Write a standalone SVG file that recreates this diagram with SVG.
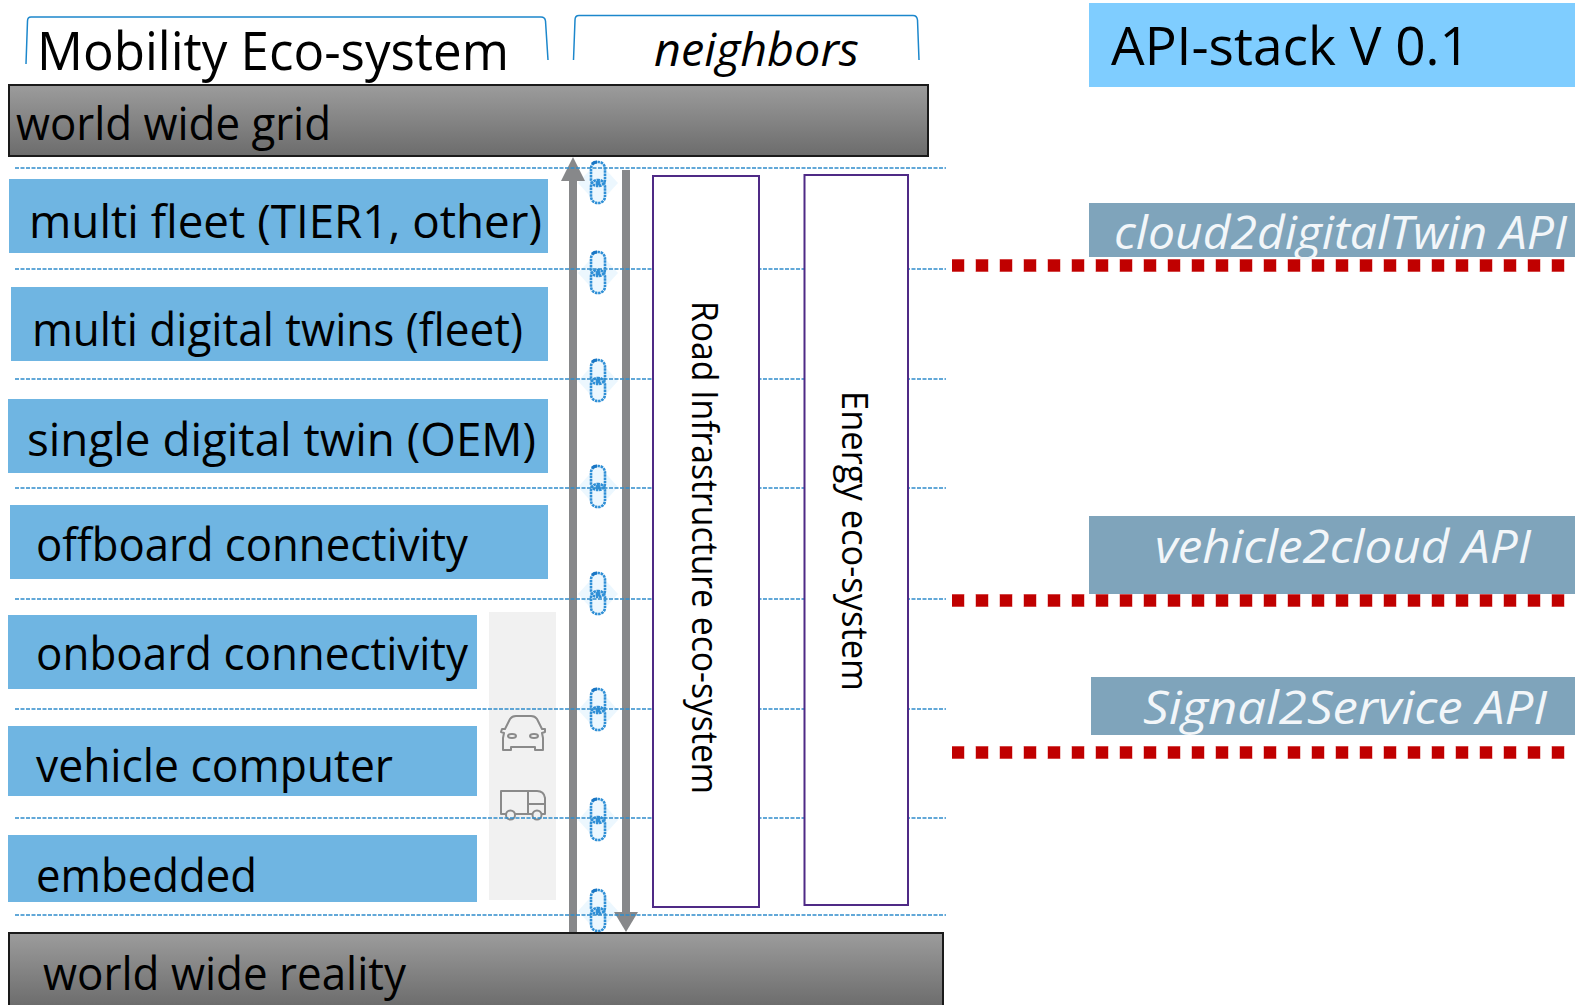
<svg xmlns="http://www.w3.org/2000/svg" width="1575" height="1005" viewBox="0 0 1575 1005">
<style>
text{font-family:"Open Sans","Noto Sans","Liberation Sans",sans-serif;fill:#000}
.t{font-size:45px}
.i{font-size:45px;font-style:italic;fill:#f2f6f9}
.layer{fill:#6fb5e2}
.api{fill:#7fa4bb}
.grey{fill:url(#g);stroke:#1a1a1a;stroke-width:2}
.guide{stroke:#2f8ccb;stroke-width:1.3;stroke-dasharray:4 1.5;fill:none}
.tab{fill:none;stroke:#1c87cc;stroke-width:1.5}
.eco{fill:#fff;stroke:#4f2a86;stroke-width:2}
.red{stroke:#c00000;stroke-width:12;stroke-dasharray:12 12;fill:none}
.halo{stroke:#e88f8f;stroke-width:13;stroke-dasharray:13 11;stroke-dashoffset:.5;fill:none}
.shaft{stroke:#87888a;stroke-width:8;fill:none}
.head{fill:#87888a}
.icon{fill:none;stroke:#8a8a8a;stroke-width:2;stroke-linejoin:round}
.link{fill:none;stroke:#2f8fd6;stroke-width:2.6;stroke-dasharray:2.5 .7}
</style>
<defs>
<linearGradient id="g" x1="0" y1="0" x2="0" y2="1"><stop offset="0" stop-color="#9c9c9c"/><stop offset="1" stop-color="#6c6c6c"/></linearGradient>
<g id="chain">
<path d="M0-22 20 0 0 22-20 0Z" fill="#e6f4fe" opacity=".75"/>
<rect class="link" x="-7" y="-21" width="14" height="24" rx="6.500"/>
<rect class="link" x="-7" y="-3" width="14" height="23" rx="6.500"/>
<path d="M-6-19Q-4-21-1-21" fill="none" stroke="#1a76c4" stroke-width="3"/>
<circle r="2.500" cy="0" fill="#2f8fd6"/>
</g>
</defs>
<g id="header-mobility"><path class="tab" d="M26 64 27.500 21Q27.500 17 31 17H541Q545 17 545.500 21L548 60"/><text x="37" y="70" font-size="53" textLength="472" lengthAdjust="spacingAndGlyphs">Mobility Eco-system</text></g>
<g id="header-neighbors"><path class="tab" d="M573.500 60 575 20Q575 15.500 579 15.500H913Q917 15.500 917.500 20L919 60"/><text x="654" y="66" class="i" style="fill:#000" textLength="205" lengthAdjust="spacingAndGlyphs">neighbors</text></g>
<g id="world-wide-grid"><rect class="grey" x="9" y="85" width="919" height="71"/><text class="t" x="16" y="140" textLength="315" lengthAdjust="spacingAndGlyphs">world wide grid</text></g>
<g id="multi-fleet"><rect class="layer" x="9" y="179" width="539" height="74"/><text class="t" x="29" y="238" textLength="513" lengthAdjust="spacingAndGlyphs">multi fleet (TIER1, other)</text></g>
<g id="multi-digital-twins"><rect class="layer" x="11" y="287" width="537" height="74"/><text class="t" x="32" y="346" textLength="491" lengthAdjust="spacingAndGlyphs">multi digital twins (fleet)</text></g>
<g id="single-digital-twin"><rect class="layer" x="8" y="399" width="540" height="74"/><text class="t" x="27" y="456" textLength="509" lengthAdjust="spacingAndGlyphs">single digital twin (OEM)</text></g>
<g id="offboard-connectivity"><rect class="layer" x="10" y="505" width="538" height="74"/><text class="t" x="36" y="561" textLength="432" lengthAdjust="spacingAndGlyphs">offboard connectivity</text></g>
<g id="onboard-connectivity"><rect class="layer" x="8" y="615" width="469" height="74"/><text class="t" x="36" y="670" textLength="432" lengthAdjust="spacingAndGlyphs">onboard connectivity</text></g>
<g id="vehicle-computer"><rect class="layer" x="8" y="726" width="469" height="70"/><text class="t" x="36" y="782" textLength="357" lengthAdjust="spacingAndGlyphs">vehicle computer</text></g>
<g id="embedded"><rect class="layer" x="8" y="835" width="469" height="67"/><text class="t" x="36" y="892" textLength="221" lengthAdjust="spacingAndGlyphs">embedded</text></g>
<g id="vehicle-panel"><rect x="489" y="612" width="67" height="288" fill="#f1f1f1"/>
<path class="icon" d="M502 729H505L510 719Q512 716 516 716H531Q535 716 537 719L542 729H545V732L542 733 543 738V750H535V747H511V750H503V738L504 733 501 732Z"/><ellipse class="icon" cx="512" cy="736" rx="4" ry="2"/><ellipse class="icon" cx="534" cy="736" rx="4" ry="2"/>
<path class="icon" d="M506 814H501V791H537Q544 791 545 798V814H541M533 814H515M528 791V814M528 804H545"/><circle class="icon" cx="510.500" cy="815" r="4.500"/><circle class="icon" cx="537" cy="815" r="4.500"/>
</g>
<g id="chains">
<use href="#chain" x="598" y="183"/><use href="#chain" x="598" y="273"/><use href="#chain" x="598" y="381"/><use href="#chain" x="598" y="487"/><use href="#chain" x="598" y="594"/><use href="#chain" x="598" y="710"/><use href="#chain" x="598" y="820"/><use href="#chain" x="598" y="911"/>
</g>
<g id="connectors">
<path class="shaft" d="M573 181V933"/><path class="head" d="M573 157 585 181H561Z"/>
<path class="shaft" d="M626 170V912"/><path class="head" d="M614 912H638L626 932Z"/>
</g>
<g id="guides">
<path class="guide" d="M15 168H946M15 269H946M15 379H946M15 488H946M15 599H946M15 709H946M15 818H946M15 915H946"/>
</g>
<g id="road-infrastructure"><rect class="eco" x="653" y="176" width="106" height="731"/><text transform="translate(692 301) rotate(90)" font-size="37" textLength="493" lengthAdjust="spacingAndGlyphs">Road Infrastructure eco-system</text></g>
<g id="energy"><rect class="eco" x="804.500" y="175" width="103.500" height="730"/><text transform="translate(842 391) rotate(90)" font-size="37" textLength="300" lengthAdjust="spacingAndGlyphs">Energy eco-system</text></g>
<g id="world-wide-reality"><rect class="grey" x="9" y="933" width="934" height="74"/><text class="t" x="43" y="990" textLength="363" lengthAdjust="spacingAndGlyphs">world wide reality</text></g>
<g id="api-stack"><rect x="1089" y="3" width="486" height="84" fill="#7fcdff"/><text x="1111" y="65" font-size="53" textLength="359" lengthAdjust="spacingAndGlyphs">API-stack V 0.1</text></g>
<g id="cloud2digitalTwin"><rect class="api" x="1089" y="203" width="486" height="54"/><text class="i" x="1114" y="249" textLength="453" lengthAdjust="spacingAndGlyphs">cloud2digitalTwin API</text></g>
<g id="vehicle2cloud"><rect class="api" x="1089" y="516" width="486" height="78"/><text class="i" x="1155" y="563" textLength="376" lengthAdjust="spacingAndGlyphs">vehicle2cloud API</text></g>
<g id="signal2service"><rect class="api" x="1091" y="677" width="484" height="58"/><text class="i" x="1143" y="724" textLength="404" lengthAdjust="spacingAndGlyphs">Signal2Service API</text></g>
<g id="api-lines"><path class="halo" d="M952 265.500H1566M952 600.500H1566M952 752.500H1566"/><path class="red" d="M952 265.500H1566M952 600.500H1566M952 752.500H1566"/></g>
</svg>
